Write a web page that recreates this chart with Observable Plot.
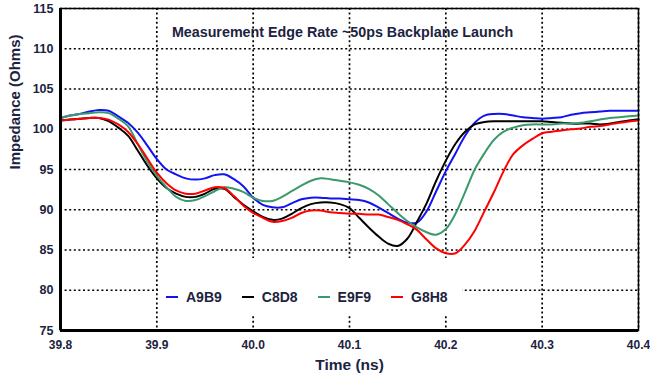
<!DOCTYPE html>
<html>
<head>
<meta charset="utf-8">
<script src="https://cdn.jsdelivr.net/npm/d3@7"></script>
<script src="https://cdn.jsdelivr.net/npm/@observablehq/plot@0.6"></script>
<style>
  html, body { margin: 0; padding: 0; background: white; }
  #wrap { position: relative; width: 650px; height: 374px; overflow: hidden; }
  #legend { position: absolute; left: 158px; top: 258px; width: 304px; height: 56px; background: white; }
  #legend .row { position: absolute; left: 8px; top: 30px; height: 18px; display: flex; align-items: center;
    font-family: "Liberation Sans", Arial, sans-serif; font-size: 14px; font-weight: bold; color: #1c2340; }
  #legend .item { display: flex; align-items: center; margin-right: 20px; }
  #legend .sw { width: 12px; height: 2.5px; margin-right: 8px; }
</style>
</head>
<body>
<div id="wrap"><div id="legend"><div class="row"></div></div></div>
<script>
const titleText = "Measurement Edge Rate ~50ps Backplane Launch";
const xLabel = "Time (ns)";
const yLabel = "Impedance (Ohms)";
const seriesNames = ["A9B9", "C8D8", "E9F9", "G8H8"];
const seriesColors = ["#1212f2", "#000000", "#3a9a6c", "#ff0000"];
const xTicks = [39.8, 39.9, 40.0, 40.1, 40.2, 40.3, 40.4];
const yTicks = [75, 80, 85, 90, 95, 100, 105, 110, 115];

const times = [
  39.80, 39.81, 39.82, 39.83, 39.84, 39.85, 39.86, 39.87, 39.88, 39.89,
  39.90, 39.91, 39.92, 39.93, 39.94, 39.95, 39.96, 39.97, 39.98, 39.99,
  40.00, 40.01, 40.02, 40.03, 40.04, 40.05, 40.06, 40.07, 40.08, 40.09,
  40.10, 40.11, 40.12, 40.13, 40.14, 40.15, 40.16, 40.17, 40.18, 40.19,
  40.20, 40.21, 40.22, 40.23, 40.24, 40.25, 40.26, 40.27, 40.28, 40.29,
  40.30, 40.31, 40.32, 40.33, 40.34, 40.35, 40.36, 40.37, 40.38, 40.39, 40.40
];

const A9B9 = [
  101.4, 101.7, 101.9, 102.2, 102.4, 102.3, 101.6, 100.8, 99.6, 98.0,
  96.3, 95.0, 94.4, 93.9, 93.75, 93.9, 94.3, 94.4, 93.8, 92.9,
  91.5, 90.6, 90.3, 90.3, 90.8, 91.3, 91.5, 91.5, 91.4, 91.4,
  91.3, 91.2, 90.9, 90.3, 89.6, 88.9, 88.4, 88.4, 89.8, 92.3,
  94.8, 97.0, 99.2, 100.8, 101.7, 101.9, 101.9, 101.7, 101.5, 101.4,
  101.3, 101.4, 101.5, 101.8, 102.0, 102.1, 102.2, 102.3, 102.3, 102.3, 102.3
];
const C8D8 = [
  101.1, 101.2, 101.3, 101.4, 101.4, 101.0, 100.2, 99.2, 97.4, 95.5,
  93.9, 92.7, 92.0, 91.6, 91.6, 92.0, 92.6, 92.6, 91.6, 90.6,
  89.8, 89.1, 88.75, 88.9, 89.5, 90.2, 90.7, 90.9, 90.9, 90.7,
  90.2, 89.0, 87.8, 86.7, 85.8, 85.5, 86.4, 88.5, 90.8, 93.6,
  96.1, 98.2, 99.7, 100.6, 100.9, 101.0, 101.0, 101.0, 101.0, 101.0,
  101.0, 100.9, 100.8, 100.7, 100.7, 100.7, 100.6, 100.7, 100.9, 101.1, 101.25
];
const E9F9 = [
  101.4, 101.7, 101.9, 102.0, 102.1, 102.0, 101.3, 100.4, 98.2, 96.0,
  94.2, 92.8, 91.6, 91.1, 91.2, 91.7, 92.3, 92.8, 92.6, 92.2,
  91.5, 91.1, 91.1, 91.6, 92.3, 93.0, 93.6, 93.9, 93.8, 93.6,
  93.4, 93.1, 92.6, 91.8, 90.7, 89.6, 88.6, 87.8, 87.2, 86.9,
  87.6, 89.5, 92.2, 95.0, 97.0, 98.7, 99.7, 100.2, 100.5, 100.6,
  100.6, 100.6, 100.7, 100.7, 100.8, 101.0, 101.2, 101.4, 101.5, 101.6, 101.7
];
const G8H8 = [
  101.1, 101.2, 101.3, 101.4, 101.4, 101.2, 100.6, 99.7, 98.2, 96.4,
  94.6, 93.3, 92.4, 92.0, 92.0, 92.4, 92.8, 92.7, 91.7, 90.5,
  89.6, 89.0, 88.5, 88.6, 89.0, 89.6, 89.9, 89.9, 89.7, 89.6,
  89.5, 89.5, 89.4, 89.4, 89.1, 88.75, 88.2, 87.5, 86.3, 85.2,
  84.6, 84.6, 85.7, 87.4, 89.8, 92.2, 94.8, 96.9, 98.0, 98.8,
  99.5, 99.7, 99.85, 100.0, 100.1, 100.3, 100.4, 100.6, 100.8, 100.95, 101.1
];

const seriesValues = [A9B9, C8D8, E9F9, G8H8];
const rows = [];
seriesNames.forEach((name, i) => {
  times.forEach((t, j) => rows.push({series: name, t, z: seriesValues[i][j]}));
});

const gridStyle = {stroke: "black", strokeOpacity: 1, strokeWidth: 1.7, strokeDasharray: "2,2.6"};

const chart = Plot.plot({
  width: 650,
  height: 374,
  marginLeft: 60,
  marginRight: 12,
  marginTop: 8,
  marginBottom: 44,
  style: {fontFamily: "'Liberation Sans', Arial, sans-serif", fontWeight: "bold", background: "white", color: "#1c2340"},
  x: {domain: [39.8, 40.4], label: null},
  y: {domain: [75, 115], label: null},
  color: {domain: seriesNames, range: seriesColors},
  marks: [
    Plot.gridX(xTicks, gridStyle),
    Plot.gridY(yTicks, gridStyle),
    Plot.line(rows, {x: "t", y: "z", z: "series", stroke: "series", strokeWidth: 2, curve: "catmull-rom"}),
    Plot.frame({stroke: "black", strokeWidth: 1.5}),
    Plot.ruleX([39.8], {stroke: "black", strokeWidth: 3}),
    Plot.ruleY([75], {stroke: "black", strokeWidth: 3}),
    Plot.axisX(xTicks, {tickSize: 0, tickPadding: 10, fontSize: 12, tickFormat: d => d.toFixed(1), label: null}),
    Plot.axisY(yTicks, {tickSize: 0, tickPadding: 7, fontSize: 12.5, label: null}),
    Plot.text([titleText], {frameAnchor: "top", lineAnchor: "middle", dy: 24, dx: -7, fontSize: 14.3, fill: "#1c2340"}),
    Plot.text([yLabel], {frameAnchor: "left", lineAnchor: "middle", rotate: -90, dx: -45, fontSize: 15, fill: "#1c2340"}),
    Plot.text([xLabel], {frameAnchor: "bottom", lineAnchor: "middle", dy: 35, fontSize: 15.5, fill: "#1c2340"})
  ]
});

const wrap = document.getElementById("wrap");
wrap.insertBefore(chart, wrap.firstChild);

const row = document.querySelector("#legend .row");
seriesNames.forEach((name, i) => {
  const item = document.createElement("div");
  item.className = "item";
  const sw = document.createElement("div");
  sw.className = "sw";
  sw.style.background = seriesColors[i];
  const lab = document.createElement("span");
  lab.textContent = name;
  item.appendChild(sw);
  item.appendChild(lab);
  row.appendChild(item);
});
</script>
</body>
</html>
